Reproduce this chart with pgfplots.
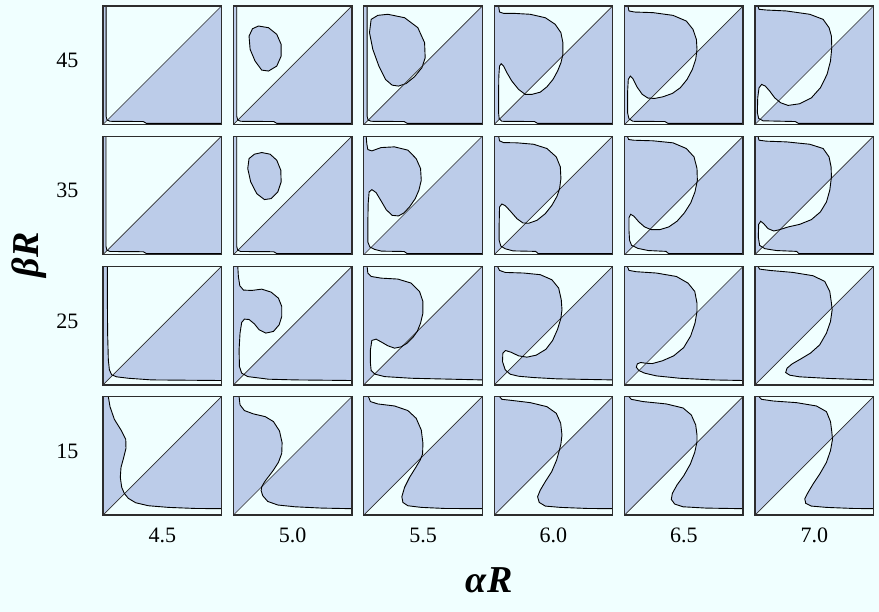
\documentclass[border=0pt]{standalone}
\usepackage{pgfplots}
\pgfplotsset{compat=1.18}
\usepackage{fontspec}
\setmainfont{Liberation Serif}

\definecolor{bgc}{RGB}{240,255,255}
\definecolor{fillc}{RGB}{188,204,233}
\definecolor{framec}{RGB}{45,45,45}

\pgfplotsset{pnl/.style={
  anchor=south west, width=118.5pt, height=118.5pt, scale only axis,
  xmin=0, xmax=1, ymin=0, ymax=1, ticks=none, axis on top,
  clip mode=individual,
  axis line style={framec, line width=1.3pt},
  axis background/.style={fill=bgc}},
  curve/.style={black, line width=0.9pt}}

\newcommand\tickfont{\fontsize{22}{24}\selectfont}
\newcommand\labfont{\fontsize{38}{40}\selectfont\bfseries\itshape}

% #1,#2: lower-left corner; #3: boundary curve from the top edge to the right edge;
% #4: commands drawn before the diagonal (closed islands); #5: extra commands.
% Shaded set = (region left of the curve) xor (triangle below the diagonal).
\newcommand\panel[5]{%
  \begin{axis}[pnl, at={(#1pt,#2pt)}]
    \addplot[draw=none, fill=fillc, even odd rule]
      coordinates {(0,0) (0,1) #3 (1,0) (0,0) (1,1) (1,0) (0,0)};
    #4
    \addplot[framec, line width=0.65pt] coordinates {(0,0) (1,1)};
    \addplot[curve] coordinates {#3};
    #5
  \end{axis}}

\begin{document}
\begin{tikzpicture}[x=1pt,y=1pt]
\fill[bgc] (0,0) rectangle (879,612);

% ---------------- beta R = 45 ----------------
\panel{103}{487.5}{(0.026,1) (0.026,0.07) (0.034,0.038) (0.06,0.027) (0.34,0.025) (0.365,0.01) (1,0.01)}{}{%
  \node[font=\tickfont] at (rel axis cs:-0.30,0.54) {45};}
\panel{233.4}{487.5}{(0.028,1) (0.028,0.07) (0.036,0.038) (0.062,0.027) (0.34,0.025) (0.365,0.01) (1,0.01)}
 {\addplot[curve, fill=fillc] coordinates {(0.211,0.831) (0.296,0.817) (0.366,0.761) (0.403,0.676) (0.403,0.577) (0.366,0.493) (0.296,0.451) (0.239,0.459) (0.183,0.535) (0.141,0.634) (0.132,0.746) (0.161,0.808) (0.211,0.831)};}{}
\panel{363.8}{487.5}{(0.028,1) (0.028,0.07) (0.036,0.038) (0.062,0.027) (0.34,0.025) (0.365,0.01) (1,0.01)}
 {\addplot[draw=none, fill=fillc] coordinates {(0.062,0.887) (0.118,0.921) (0.203,0.930) (0.344,0.901) (0.456,0.817) (0.513,0.690) (0.518,0.563) (0.490,0.479) (0.428,0.403) (0.358,0.346) (0.293,0.324) (0.239,0.332) (0.183,0.380) (0.127,0.493) (0.076,0.634) (0.048,0.775) (0.062,0.887)};
  % part of the island lying below the diagonal
  \addplot[draw=none, fill=bgc] coordinates {(0.340,0.340) (0.358,0.346) (0.428,0.403) (0.490,0.479) (0.4955,0.4955)};
  \addplot[curve] coordinates {(0.062,0.887) (0.118,0.921) (0.203,0.930) (0.344,0.901) (0.456,0.817) (0.513,0.690) (0.518,0.563) (0.490,0.479) (0.428,0.403) (0.358,0.346) (0.293,0.324) (0.239,0.332) (0.183,0.380) (0.127,0.493) (0.076,0.634) (0.048,0.775) (0.062,0.887)};}{}
\panel{494.2}{487.5}{(0.037,1) (0.045,0.949) (0.079,0.938) (0.163,0.938) (0.304,0.930) (0.431,0.901) (0.515,0.845) (0.563,0.775) (0.580,0.690) (0.580,0.592) (0.563,0.521) (0.535,0.451) (0.496,0.380) (0.445,0.318) (0.389,0.273) (0.318,0.254) (0.262,0.254) (0.206,0.296) (0.149,0.366) (0.107,0.437) (0.079,0.493) (0.059,0.513) (0.045,0.493) (0.039,0.408) (0.037,0.268) (0.037,0.099) (0.042,0.048) (0.065,0.027) (0.34,0.025) (0.365,0.01) (1,0.01)}{}{}
\panel{624.6}{487.5}{(0.028,1) (0.037,0.958) (0.085,0.949) (0.239,0.944) (0.408,0.921) (0.521,0.873) (0.577,0.803) (0.606,0.718) (0.611,0.634) (0.600,0.549) (0.572,0.465) (0.527,0.380) (0.470,0.310) (0.403,0.262) (0.324,0.234) (0.254,0.220) (0.197,0.223) (0.149,0.254) (0.104,0.318) (0.070,0.386) (0.048,0.408) (0.031,0.380) (0.025,0.268) (0.025,0.099) (0.037,0.048) (0.070,0.027) (0.34,0.025) (0.365,0.01) (1,0.01)}{}{}
\panel{755}{487.5}{(0.025,1) (0.034,0.972) (0.096,0.966) (0.265,0.958) (0.462,0.930) (0.575,0.887) (0.625,0.817) (0.645,0.746) (0.648,0.648) (0.637,0.535) (0.608,0.423) (0.552,0.310) (0.476,0.225) (0.377,0.175) (0.279,0.161) (0.217,0.183) (0.166,0.225) (0.124,0.282) (0.087,0.324) (0.056,0.338) (0.034,0.310) (0.023,0.225) (0.020,0.099) (0.031,0.051) (0.068,0.031) (0.34,0.025) (0.365,0.01) (1,0.01)}{}{}

% ---------------- beta R = 35 ----------------
\panel{103}{357.3}{(0.025,1) (0.025,0.07) (0.033,0.038) (0.06,0.027) (0.34,0.025) (0.365,0.01) (1,0.01)}{}{%
  \node[font=\tickfont] at (rel axis cs:-0.30,0.54) {35};}
\panel{233.4}{357.3}{(0.028,1) (0.028,0.07) (0.036,0.038) (0.062,0.027) (0.34,0.025) (0.365,0.01) (1,0.01)}
 {\addplot[curve, fill=fillc] coordinates {(0.177,0.848) (0.239,0.862) (0.310,0.848) (0.366,0.797) (0.400,0.713) (0.403,0.614) (0.375,0.530) (0.318,0.473) (0.262,0.465) (0.197,0.515) (0.146,0.614) (0.121,0.727) (0.132,0.811) (0.177,0.848)};}{}
\panel{363.8}{357.3}{(0.020,1) (0.025,0.938) (0.034,0.887) (0.068,0.876) (0.146,0.904) (0.259,0.910) (0.372,0.882) (0.442,0.811) (0.479,0.727) (0.485,0.628) (0.465,0.544) (0.434,0.473) (0.386,0.403) (0.338,0.352) (0.293,0.327) (0.239,0.332) (0.189,0.380) (0.146,0.454) (0.104,0.524) (0.068,0.549) (0.045,0.530) (0.037,0.431) (0.034,0.262) (0.034,0.107) (0.051,0.065) (0.090,0.045) (0.15,0.03) (0.34,0.027) (0.365,0.01) (1,0.01)}{}{}
\panel{494.2}{357.3}{(0.037,1) (0.045,0.961) (0.079,0.946) (0.192,0.944) (0.332,0.932) (0.445,0.896) (0.524,0.825) (0.558,0.741) (0.563,0.642) (0.552,0.558) (0.530,0.493) (0.487,0.417) (0.431,0.346) (0.361,0.290) (0.290,0.265) (0.242,0.268) (0.192,0.304) (0.135,0.369) (0.093,0.414) (0.065,0.428) (0.045,0.403) (0.042,0.262) (0.042,0.121) (0.056,0.073) (0.093,0.05) (0.16,0.032) (0.35,0.028) (0.37,0.01) (1,0.01)}{}{}
\panel{624.6}{357.3}{(0.023,1) (0.034,0.972) (0.076,0.966) (0.239,0.961) (0.408,0.944) (0.521,0.896) (0.586,0.825) (0.611,0.727) (0.614,0.628) (0.594,0.530) (0.558,0.437) (0.504,0.352) (0.442,0.282) (0.372,0.234) (0.296,0.211) (0.225,0.211) (0.169,0.234) (0.121,0.276) (0.079,0.324) (0.051,0.341) (0.037,0.313) (0.037,0.206) (0.042,0.121) (0.059,0.079) (0.113,0.053) (0.2,0.035) (0.35,0.028) (0.37,0.01) (1,0.01)}{}{}
\panel{755}{357.3}{(0.025,1) (0.034,0.966) (0.096,0.958) (0.265,0.952) (0.462,0.932) (0.575,0.896) (0.625,0.825) (0.642,0.741) (0.645,0.656) (0.631,0.544) (0.603,0.445) (0.552,0.361) (0.476,0.296) (0.377,0.256) (0.279,0.234) (0.208,0.211) (0.158,0.200) (0.110,0.220) (0.073,0.262) (0.048,0.282) (0.031,0.256) (0.028,0.149) (0.039,0.079) (0.082,0.051) (0.18,0.035) (0.35,0.028) (0.37,0.01) (1,0.01)}{}{}

% ---------------- beta R = 25 ----------------
\panel{103}{227.1}{(0.037,1) (0.037,0.718) (0.039,0.437) (0.045,0.211) (0.054,0.127) (0.073,0.085) (0.115,0.068) (0.214,0.056) (0.411,0.042) (1,0.037)}{}{%
  \node[font=\tickfont] at (rel axis cs:-0.30,0.54) {25};}
\panel{233.4}{227.1}{(0.037,1) (0.042,0.915) (0.054,0.837) (0.085,0.800) (0.155,0.797) (0.239,0.808) (0.318,0.783) (0.380,0.732) (0.408,0.662) (0.408,0.577) (0.386,0.507) (0.338,0.451) (0.273,0.437) (0.217,0.465) (0.177,0.515) (0.132,0.552) (0.093,0.555) (0.070,0.527) (0.056,0.437) (0.048,0.296) (0.051,0.155) (0.070,0.099) (0.121,0.070) (0.296,0.048) (0.521,0.042) (1,0.037)}{}{}
\panel{363.8}{227.1}{(0.028,1) (0.034,0.944) (0.062,0.915) (0.146,0.901) (0.287,0.893) (0.400,0.859) (0.470,0.789) (0.499,0.704) (0.499,0.606) (0.479,0.521) (0.451,0.451) (0.414,0.400) (0.366,0.352) (0.315,0.321) (0.259,0.310) (0.203,0.330) (0.146,0.363) (0.104,0.386) (0.068,0.375) (0.056,0.296) (0.056,0.183) (0.062,0.121) (0.096,0.090) (0.175,0.070) (0.400,0.056) (1,0.042)}{}{}
\panel{494.2}{227.1}{(0.028,1) (0.045,0.966) (0.093,0.949) (0.248,0.944) (0.389,0.930) (0.487,0.887) (0.544,0.817) (0.566,0.718) (0.572,0.634) (0.563,0.563) (0.535,0.470) (0.493,0.375) (0.437,0.301) (0.355,0.251) (0.276,0.234) (0.206,0.245) (0.141,0.276) (0.096,0.290) (0.073,0.268) (0.070,0.197) (0.093,0.127) (0.135,0.090) (0.206,0.073) (0.332,0.062) (0.530,0.051) (1,0.042)}{}{}
\panel{624.6}{227.1}{(0.023,1) (0.037,0.966) (0.099,0.955) (0.268,0.944) (0.437,0.915) (0.535,0.859) (0.592,0.789) (0.611,0.690) (0.611,0.620) (0.594,0.521) (0.558,0.414) (0.499,0.315) (0.414,0.245) (0.318,0.203) (0.234,0.180) (0.177,0.183) (0.135,0.189) (0.107,0.177) (0.099,0.149) (0.121,0.121) (0.169,0.099) (0.268,0.076) (0.465,0.056) (0.746,0.042) (1,0.037)}{}{}
\panel{755}{227.1}{(0.025,1) (0.039,0.977) (0.124,0.966) (0.321,0.949) (0.490,0.921) (0.589,0.873) (0.631,0.789) (0.645,0.690) (0.651,0.634) (0.637,0.535) (0.603,0.437) (0.546,0.338) (0.468,0.268) (0.383,0.217) (0.313,0.177) (0.270,0.141) (0.259,0.104) (0.293,0.082) (0.377,0.068) (0.631,0.054) (1,0.042)}{}{}

% ---------------- beta R = 15 ----------------
\panel{103}{96.9}{(0.045,1) (0.059,0.915) (0.096,0.808) (0.152,0.718) (0.192,0.639) (0.194,0.563) (0.175,0.487) (0.152,0.403) (0.146,0.318) (0.158,0.234) (0.180,0.183) (0.214,0.141) (0.276,0.104) (0.383,0.079) (0.552,0.065) (0.777,0.056) (1,0.054)}{}{%
  \node[font=\tickfont] at (rel axis cs:-0.30,0.54) {15};
  \node[font=\tickfont] at (rel axis cs:0.5,-0.17) {4.5};}
\panel{233.4}{96.9}{(0.048,1) (0.056,0.930) (0.093,0.882) (0.169,0.854) (0.268,0.831) (0.338,0.789) (0.389,0.710) (0.411,0.611) (0.408,0.521) (0.380,0.445) (0.338,0.380) (0.296,0.324) (0.262,0.279) (0.239,0.239) (0.234,0.206) (0.248,0.163) (0.290,0.115) (0.375,0.085) (0.521,0.070) (0.746,0.059) (1,0.054)}{}{%
  \node[font=\tickfont] at (rel axis cs:0.5,-0.17) {5.0};}
\panel{363.8}{96.9}{(0.039,1) (0.056,0.958) (0.118,0.938) (0.259,0.921) (0.372,0.882) (0.442,0.817) (0.485,0.718) (0.499,0.606) (0.496,0.515) (0.476,0.465) (0.439,0.403) (0.386,0.318) (0.344,0.234) (0.321,0.155) (0.330,0.107) (0.372,0.079) (0.485,0.065) (0.682,0.056) (1,0.054)}{}{%
  \node[font=\tickfont] at (rel axis cs:0.5,-0.17) {5.5};}
\panel{494.2}{96.9}{(0.045,1) (0.065,0.977) (0.163,0.966) (0.304,0.949) (0.445,0.915) (0.524,0.859) (0.561,0.775) (0.572,0.676) (0.563,0.600) (0.549,0.544) (0.527,0.465) (0.485,0.366) (0.431,0.282) (0.389,0.211) (0.366,0.155) (0.380,0.107) (0.431,0.076) (0.558,0.065) (0.783,0.056) (1,0.054)}{}{%
  \node[font=\tickfont] at (rel axis cs:0.5,-0.17) {6.0};}
\panel{624.6}{96.9}{(0.037,1) (0.056,0.977) (0.155,0.958) (0.352,0.938) (0.493,0.904) (0.563,0.845) (0.600,0.761) (0.611,0.676) (0.611,0.620) (0.592,0.530) (0.555,0.431) (0.499,0.332) (0.442,0.254) (0.403,0.183) (0.394,0.132) (0.423,0.093) (0.493,0.070) (0.690,0.059) (1,0.054)}{}{%
  \node[font=\tickfont] at (rel axis cs:0.5,-0.17) {6.5};}
\panel{755}{96.9}{(0.034,1) (0.054,0.977) (0.152,0.963) (0.349,0.949) (0.518,0.921) (0.603,0.873) (0.637,0.789) (0.648,0.704) (0.654,0.639) (0.637,0.544) (0.603,0.445) (0.546,0.346) (0.490,0.262) (0.448,0.192) (0.420,0.138) (0.428,0.099) (0.476,0.076) (0.603,0.065) (0.828,0.056) (1,0.054)}{}{%
  \node[font=\tickfont] at (rel axis cs:0.5,-0.17) {7.0};}

% axis titles
\node[font=\labfont, rotate=90] at (29,357) {βR};
\node[font=\labfont] at (489,32) {α\kern1pt R};

\pgfresetboundingbox
\useasboundingbox (0,0) rectangle (879,612);
\end{tikzpicture}
\end{document}
